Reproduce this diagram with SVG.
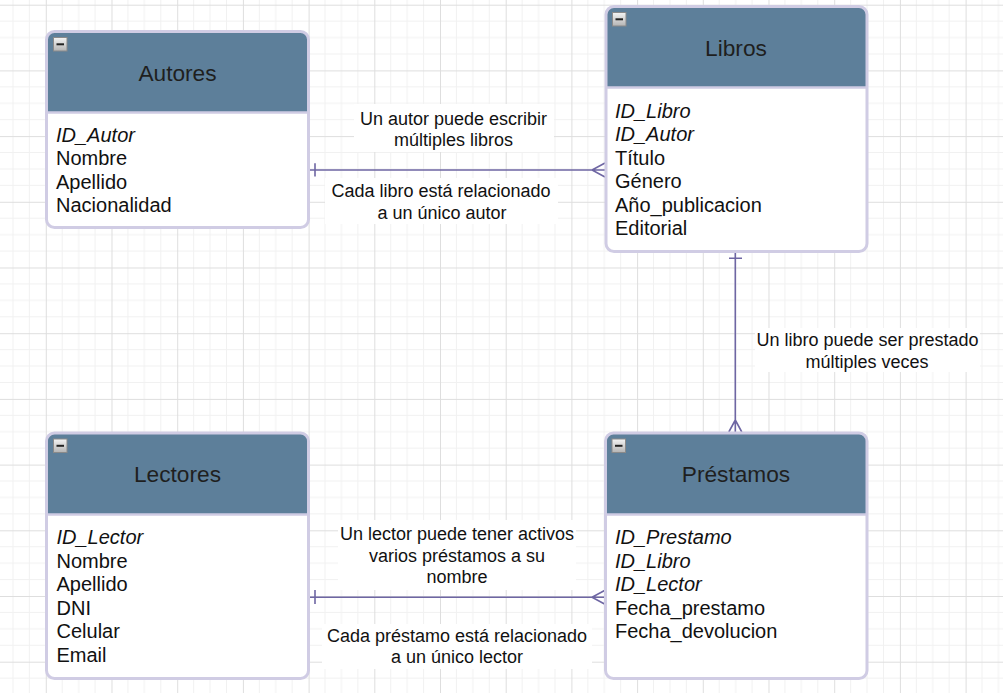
<svg xmlns="http://www.w3.org/2000/svg" width="1003" height="693" viewBox="0 0 1003 693">
<defs>
<pattern id="grid" x="45.8" y="4.7" width="65.7" height="65.7" patternUnits="userSpaceOnUse">
<path d="M16.4 0V65.7M32.85 0V65.7M49.3 0V65.7M0 16.4H65.7M0 32.85H65.7M0 49.3H65.7" stroke="#f1f1f1" stroke-width="1" fill="none"/>
<path d="M0.5 0V65.7M0 0.5H65.7" stroke="#dedede" stroke-width="1" fill="none"/>
</pattern>
<linearGradient id="btn" x1="0" y1="0" x2="0" y2="1">
<stop offset="0" stop-color="#f4f4f4"/>
<stop offset="1" stop-color="#b4b4b4"/>
</linearGradient>
</defs>
<style>
text{font-family:"Liberation Sans",Arial,sans-serif;}
.title{font-size:22.7px;fill:#1f1f1f;text-anchor:middle;}
.attr{font-size:20px;fill:#111;}
.key{font-style:italic;}
.lbl{font-size:18px;fill:#111;text-anchor:middle;}
.body{fill:#fff;}
.head{fill:#5d7f9a;}
.sep{stroke:#cfcbe3;stroke-width:2.5;}
.border{fill:none;stroke:#d0cce4;stroke-width:3;}
.btn{fill:url(#btn);stroke:#8a8a8a;stroke-width:1;}
.minus{stroke:#222;stroke-width:2;}
.conn{stroke:#6e66a3;stroke-width:1.6;fill:none;}
.lblbg{fill:#fff;}
</style>
<rect width="1003" height="693" fill="#fff"/>
<rect width="1003" height="693" fill="url(#grid)"/>

<g id="connectors">
<rect class="lblbg" x="354" y="104" width="200" height="48"/>
<rect class="lblbg" x="325" y="178" width="233" height="46"/>
<rect class="lblbg" x="755" y="328" width="225" height="44"/>
<rect class="lblbg" x="338" y="520" width="238" height="70"/>
<rect class="lblbg" x="322" y="624" width="270" height="45"/>
<path class="conn" d="M310 170H605M315 163.3V176.5M605 163L592 170L605 177"/>
<path class="conn" d="M735.3 253V432M729 258.3H742M728.8 432L735.3 420L741.8 432"/>
<path class="conn" d="M310 597.3H605M315 590V604M605 590.3L592 597.3L605 604.3"/>
<text class="lbl" x="453.5" y="124.5">Un autor puede escribir</text>
<text class="lbl" x="453.5" y="146">múltiples libros</text>
<text class="lbl" x="441" y="196.5">Cada libro está relacionado</text>
<text class="lbl" x="442" y="218.5">a un único autor</text>
<text class="lbl" x="867.5" y="346">Un libro puede ser prestado</text>
<text class="lbl" x="867" y="367.5">múltiples veces</text>
<text class="lbl" x="457" y="540">Un lector puede tener activos</text>
<text class="lbl" x="457" y="561.7">varios préstamos a su</text>
<text class="lbl" x="457" y="583.3">nombre</text>
<text class="lbl" x="457" y="641.7">Cada préstamo está relacionado</text>
<text class="lbl" x="457" y="663.3">a un único lector</text>
</g>

<g id="autores">
<rect class="body" x="46.5" y="31.5" width="262" height="196" rx="8"/>
<path class="head" d="M46.5 112V39.5A8 8 0 0 1 54.5 31.5H300.5A8 8 0 0 1 308.5 39.5V112Z"/>
<line class="sep" x1="46.5" y1="112.5" x2="308.5" y2="112.5"/>
<rect class="border" x="46.5" y="31.5" width="262" height="196" rx="8"/>
<rect class="btn" x="53.5" y="37.5" width="13.5" height="13.5"/>
<line class="minus" x1="56.5" y1="44.3" x2="64" y2="44.3"/>
<text class="title" x="177.5" y="81">Autores</text>
<text class="attr key" x="56" y="141.7">ID_Autor</text>
<text class="attr" x="56" y="165.1">Nombre</text>
<text class="attr" x="56" y="188.5">Apellido</text>
<text class="attr" x="56" y="211.9">Nacionalidad</text>
</g>

<g id="libros">
<rect class="body" x="606" y="6.5" width="261" height="245" rx="8"/>
<path class="head" d="M606 87V14.5A8 8 0 0 1 614 6.5H859A8 8 0 0 1 867 14.5V87Z"/>
<line class="sep" x1="606" y1="87.5" x2="867" y2="87.5"/>
<rect class="border" x="606" y="6.5" width="261" height="245" rx="8"/>
<rect class="btn" x="612.5" y="12.5" width="13.5" height="13.5"/>
<line class="minus" x1="615.5" y1="19.3" x2="623" y2="19.3"/>
<text class="title" x="736" y="56">Libros</text>
<text class="attr key" x="615" y="117.6">ID_Libro</text>
<text class="attr key" x="615" y="141.1">ID_Autor</text>
<text class="attr" x="615" y="164.6">Título</text>
<text class="attr" x="615" y="188.1">Género</text>
<text class="attr" x="615" y="211.6">Año_publicacion</text>
<text class="attr" x="615" y="235.1">Editorial</text>
</g>

<g id="lectores">
<rect class="body" x="46.5" y="433" width="262" height="245.5" rx="8"/>
<path class="head" d="M46.5 514V441A8 8 0 0 1 54.5 433H300.5A8 8 0 0 1 308.5 441V514Z"/>
<line class="sep" x1="46.5" y1="514.5" x2="308.5" y2="514.5"/>
<rect class="border" x="46.5" y="433" width="262" height="245.5" rx="8"/>
<rect class="btn" x="53.5" y="439" width="13.5" height="13.5"/>
<line class="minus" x1="56.5" y1="445.8" x2="64" y2="445.8"/>
<text class="title" x="177.5" y="482">Lectores</text>
<text class="attr key" x="56.5" y="544.3">ID_Lector</text>
<text class="attr" x="56.5" y="567.8">Nombre</text>
<text class="attr" x="56.5" y="591.3">Apellido</text>
<text class="attr" x="56.5" y="614.8">DNI</text>
<text class="attr" x="56.5" y="638.3">Celular</text>
<text class="attr" x="56.5" y="661.8">Email</text>
</g>

<g id="prestamos">
<rect class="body" x="605.5" y="433" width="261.5" height="245.5" rx="8"/>
<path class="head" d="M605.5 514V441A8 8 0 0 1 613.5 433H859A8 8 0 0 1 867 441V514Z"/>
<line class="sep" x1="605.5" y1="514.5" x2="867" y2="514.5"/>
<rect class="border" x="605.5" y="433" width="261.5" height="245.5" rx="8"/>
<rect class="btn" x="612" y="439" width="13.5" height="13.5"/>
<line class="minus" x1="615" y1="445.8" x2="622.5" y2="445.8"/>
<text class="title" x="736" y="482">Préstamos</text>
<text class="attr key" x="615" y="544">ID_Prestamo</text>
<text class="attr key" x="615" y="567.5">ID_Libro</text>
<text class="attr key" x="615" y="591">ID_Lector</text>
<text class="attr" x="615" y="614.8">Fecha_prestamo</text>
<text class="attr" x="615" y="638.3">Fecha_devolucion</text>
</g>
</svg>
